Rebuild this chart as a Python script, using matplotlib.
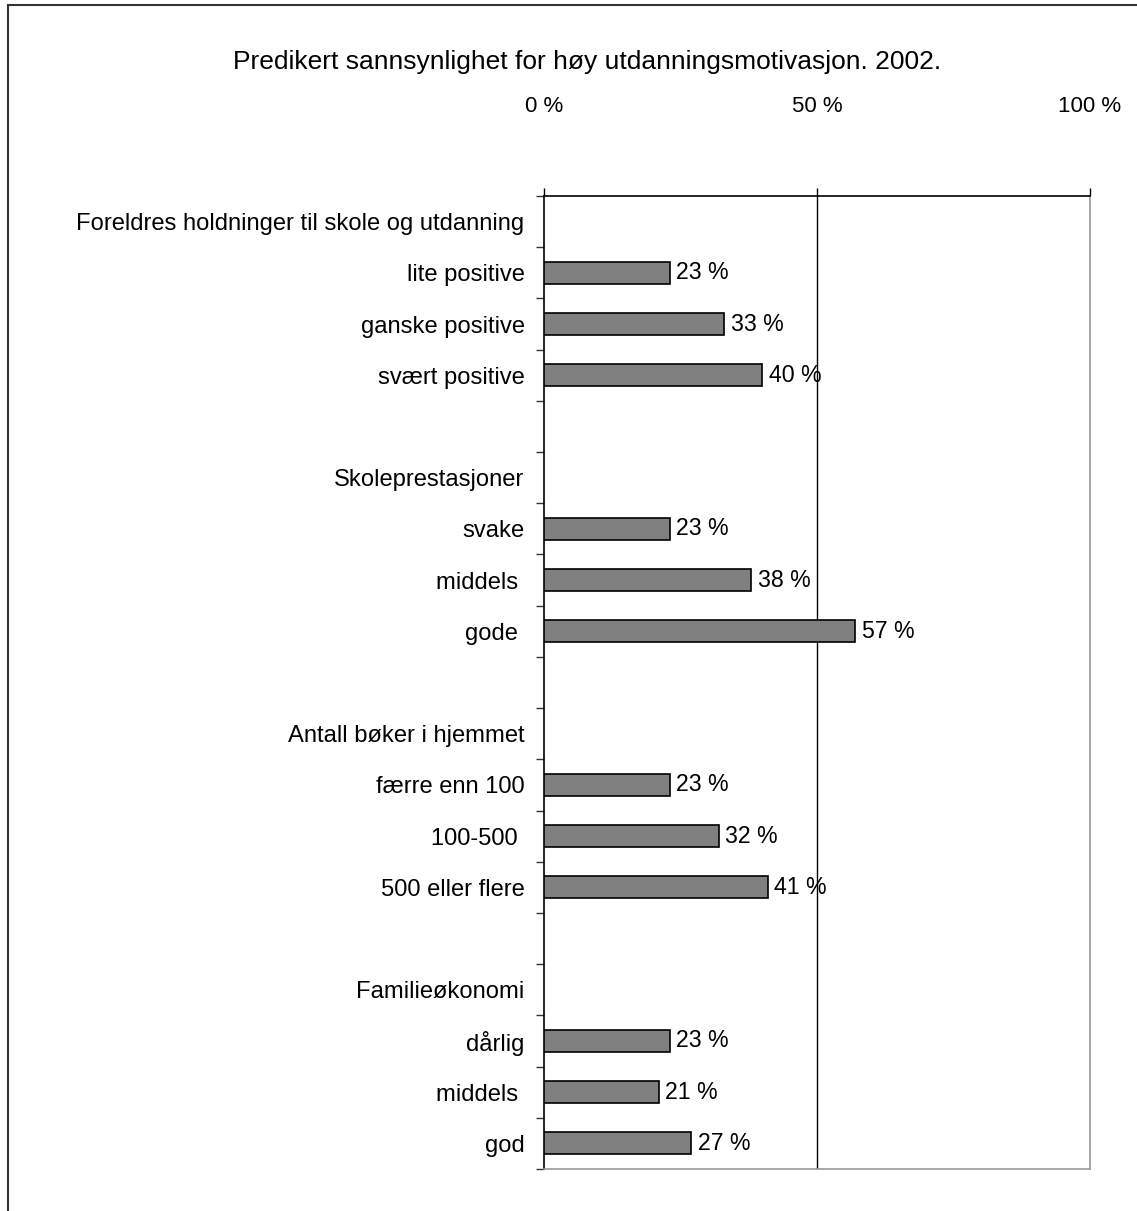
import numpy as np
import matplotlib.pyplot as plt
from matplotlib.patches import Rectangle

plt.rcParams['font.family'] = ['Liberation Sans', 'DejaVu Sans']

#---Data---
labels = ['Foreldres holdninger til skole og utdanning', 'lite positive', 'ganske positive',
          'svært positive', '', 'Skoleprestasjoner', 'svake', 'middels ', 'gode ', '',
          'Antall bøker i hjemmet', 'færre enn 100', '100-500 ', '500 eller flere', '',
          'Familieøkonomi', 'dårlig', 'middels ', 'god']
values = [None, 23, 33, 40, None, None, 23, 38, 57, None,
          None, 23, 32, 41, None, None, 23, 21, 27]
xticks = [0, 50, 100]
xticklabels = ['0 %', '50 %', '100 %']
title = 'Predikert sannsynlighet for høy utdanningsmotivasjon. 2002.'

W, H = 1137, 1211
fig = plt.figure(figsize=(W / 100, H / 100), dpi=100)
ax = fig.add_axes([544 / W, 1 - 1169 / H, 546 / W, 973 / H])

n = len(labels)
y = np.arange(n)
for yi, v in zip(y, values):
    if v is None:
        continue
    ax.barh(yi, v, height=0.43, color='#808080', edgecolor='black', linewidth=1.2, zorder=3)
    ax.text(v + 1.2, yi, '%d %%' % v, va='center', ha='left', fontsize=16.7, zorder=4)

ax.set_xlim(0, 100)
ax.set_ylim(n - 0.5, -0.5)

# x axis on top
ax.xaxis.tick_top()
ax.set_xticks(xticks)
ax.set_xticklabels(xticklabels, fontsize=16)
ax.tick_params(axis='x', direction='out', length=6, width=1, pad=51, color='black')

# y labels at centres, tick marks between rows
ax.set_yticks(y)
ax.set_yticklabels(labels, fontsize=17.1)
ax.tick_params(axis='y', which='major', length=0, pad=14)
ax.set_yticks(np.arange(n + 1) - 0.5, minor=True)
ax.tick_params(axis='y', which='minor', direction='out', length=6, width=1, color='#333333')

ax.axvline(50, color='black', linewidth=1, zorder=2)
ax.spines['top'].set_color('black')
ax.spines['left'].set_color('black')
ax.spines['right'].set_color('#999999')
ax.spines['bottom'].set_color('#999999')
for s in ax.spines.values():
    s.set_linewidth(1.2)

fig.text(587 / W, 1 - 62 / H, title, ha='center', va='center', fontsize=19)

# outer chart frame
fig.patches.append(Rectangle((8 / W, -0.1), 1.2, 1 - 5 / H + 0.1, transform=fig.transFigure,
                             fill=False, edgecolor='#333333', linewidth=1.5))

plt.savefig('out.png', dpi=100)
